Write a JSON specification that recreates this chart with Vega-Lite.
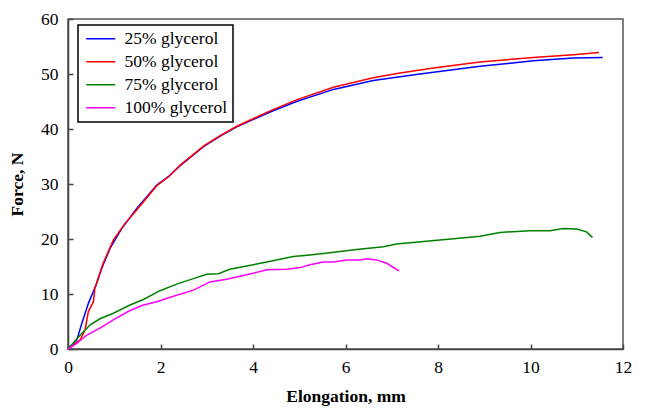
{
  "$schema": "https://vega.github.io/schema/vega-lite/v6.json",
  "width": 555,
  "height": 330,
  "autosize": {"type": "none"},
  "padding": {"left": 68, "top": 19, "right": 22, "bottom": 63},
  "background": "white",
  "config": {
    "font": "Liberation Serif",
    "view": {"stroke": "#555555", "strokeWidth": 1.5},
    "axis": {
      "domainColor": "#444444",
      "domainWidth": 1.5,
      "tickColor": "#444444",
      "tickWidth": 1.5,
      "tickSize": -5,
      "grid": false,
      "labelFont": "Liberation Serif",
      "labelFontSize": 17.5,
      "labelColor": "black",
      "titleFont": "Liberation Serif",
      "titleFontSize": 17.5,
      "titleFontWeight": "bold",
      "titleColor": "black"
    },
    "legend": {
      "labelFont": "Liberation Serif",
      "labelFontSize": 17.5
    }
  },
  "data": {
    "values": [
      {"s": "25% glycerol", "x": 0, "y": 0},
      {"s": "25% glycerol", "x": 0.19, "y": 1.6},
      {"s": "25% glycerol", "x": 0.30, "y": 4.7},
      {"s": "25% glycerol", "x": 0.44, "y": 8.3},
      {"s": "25% glycerol", "x": 0.62, "y": 11.9},
      {"s": "25% glycerol", "x": 0.73, "y": 14.7},
      {"s": "25% glycerol", "x": 0.91, "y": 18.3},
      {"s": "25% glycerol", "x": 1.16, "y": 21.9},
      {"s": "25% glycerol", "x": 1.49, "y": 25.6},
      {"s": "25% glycerol", "x": 1.92, "y": 29.8},
      {"s": "25% glycerol", "x": 2.19, "y": 31.5},
      {"s": "25% glycerol", "x": 2.42, "y": 33.3},
      {"s": "25% glycerol", "x": 2.93, "y": 36.8},
      {"s": "25% glycerol", "x": 3.29, "y": 38.7},
      {"s": "25% glycerol", "x": 3.65, "y": 40.4},
      {"s": "25% glycerol", "x": 4.37, "y": 43.1},
      {"s": "25% glycerol", "x": 4.94, "y": 45.0},
      {"s": "25% glycerol", "x": 5.74, "y": 47.2},
      {"s": "25% glycerol", "x": 6.6, "y": 48.8},
      {"s": "25% glycerol", "x": 7.18, "y": 49.5},
      {"s": "25% glycerol", "x": 7.61, "y": 50.0},
      {"s": "25% glycerol", "x": 8.91, "y": 51.4},
      {"s": "25% glycerol", "x": 10.06, "y": 52.4},
      {"s": "25% glycerol", "x": 10.93, "y": 52.9},
      {"s": "25% glycerol", "x": 11.56, "y": 53.0},
      {"s": "50% glycerol", "x": 0, "y": 0},
      {"s": "50% glycerol", "x": 0.26, "y": 1.6},
      {"s": "50% glycerol", "x": 0.37, "y": 3.5},
      {"s": "50% glycerol", "x": 0.44, "y": 6.8},
      {"s": "50% glycerol", "x": 0.55, "y": 8.6},
      {"s": "50% glycerol", "x": 0.58, "y": 11.0},
      {"s": "50% glycerol", "x": 0.76, "y": 15.6},
      {"s": "50% glycerol", "x": 0.98, "y": 19.8},
      {"s": "50% glycerol", "x": 1.23, "y": 22.8},
      {"s": "50% glycerol", "x": 1.49, "y": 25.3},
      {"s": "50% glycerol", "x": 1.92, "y": 29.7},
      {"s": "50% glycerol", "x": 2.19, "y": 31.4},
      {"s": "50% glycerol", "x": 2.42, "y": 33.4},
      {"s": "50% glycerol", "x": 2.93, "y": 36.9},
      {"s": "50% glycerol", "x": 3.29, "y": 38.8},
      {"s": "50% glycerol", "x": 3.65, "y": 40.5},
      {"s": "50% glycerol", "x": 4.37, "y": 43.3},
      {"s": "50% glycerol", "x": 4.94, "y": 45.3},
      {"s": "50% glycerol", "x": 5.74, "y": 47.6},
      {"s": "50% glycerol", "x": 6.6, "y": 49.3},
      {"s": "50% glycerol", "x": 7.18, "y": 50.2},
      {"s": "50% glycerol", "x": 7.9, "y": 51.1},
      {"s": "50% glycerol", "x": 8.91, "y": 52.2},
      {"s": "50% glycerol", "x": 10.06, "y": 53.0},
      {"s": "50% glycerol", "x": 10.93, "y": 53.5},
      {"s": "50% glycerol", "x": 11.48, "y": 53.9},
      {"s": "75% glycerol", "x": 0, "y": 0},
      {"s": "75% glycerol", "x": 0.26, "y": 2.5},
      {"s": "75% glycerol", "x": 0.48, "y": 4.4},
      {"s": "75% glycerol", "x": 0.69, "y": 5.5},
      {"s": "75% glycerol", "x": 0.98, "y": 6.5},
      {"s": "75% glycerol", "x": 1.34, "y": 8.0},
      {"s": "75% glycerol", "x": 1.63, "y": 9.0},
      {"s": "75% glycerol", "x": 1.99, "y": 10.6},
      {"s": "75% glycerol", "x": 2.35, "y": 11.8},
      {"s": "75% glycerol", "x": 2.71, "y": 12.8},
      {"s": "75% glycerol", "x": 3.0, "y": 13.6},
      {"s": "75% glycerol", "x": 3.25, "y": 13.7},
      {"s": "75% glycerol", "x": 3.5, "y": 14.5},
      {"s": "75% glycerol", "x": 3.86, "y": 15.1},
      {"s": "75% glycerol", "x": 4.30, "y": 15.8},
      {"s": "75% glycerol", "x": 4.87, "y": 16.8},
      {"s": "75% glycerol", "x": 5.23, "y": 17.1},
      {"s": "75% glycerol", "x": 5.66, "y": 17.5},
      {"s": "75% glycerol", "x": 6.24, "y": 18.1},
      {"s": "75% glycerol", "x": 6.82, "y": 18.6},
      {"s": "75% glycerol", "x": 7.1, "y": 19.1},
      {"s": "75% glycerol", "x": 8.04, "y": 19.8},
      {"s": "75% glycerol", "x": 8.69, "y": 20.3},
      {"s": "75% glycerol", "x": 8.91, "y": 20.5},
      {"s": "75% glycerol", "x": 9.34, "y": 21.2},
      {"s": "75% glycerol", "x": 9.99, "y": 21.5},
      {"s": "75% glycerol", "x": 10.42, "y": 21.5},
      {"s": "75% glycerol", "x": 10.71, "y": 21.9},
      {"s": "75% glycerol", "x": 11.0, "y": 21.8},
      {"s": "75% glycerol", "x": 11.21, "y": 21.3},
      {"s": "75% glycerol", "x": 11.34, "y": 20.3},
      {"s": "100% glycerol", "x": 0, "y": 0},
      {"s": "100% glycerol", "x": 0.19, "y": 1.0},
      {"s": "100% glycerol", "x": 0.40, "y": 2.5},
      {"s": "100% glycerol", "x": 0.69, "y": 3.8},
      {"s": "100% glycerol", "x": 0.98, "y": 5.3},
      {"s": "100% glycerol", "x": 1.34, "y": 7.0},
      {"s": "100% glycerol", "x": 1.63, "y": 8.0},
      {"s": "100% glycerol", "x": 1.92, "y": 8.6},
      {"s": "100% glycerol", "x": 2.28, "y": 9.6},
      {"s": "100% glycerol", "x": 2.71, "y": 10.7},
      {"s": "100% glycerol", "x": 3.07, "y": 12.2},
      {"s": "100% glycerol", "x": 3.43, "y": 12.7},
      {"s": "100% glycerol", "x": 3.86, "y": 13.5},
      {"s": "100% glycerol", "x": 4.30, "y": 14.4},
      {"s": "100% glycerol", "x": 4.73, "y": 14.5},
      {"s": "100% glycerol", "x": 5.02, "y": 14.8},
      {"s": "100% glycerol", "x": 5.23, "y": 15.3},
      {"s": "100% glycerol", "x": 5.52, "y": 15.8},
      {"s": "100% glycerol", "x": 5.74, "y": 15.8},
      {"s": "100% glycerol", "x": 6.03, "y": 16.2},
      {"s": "100% glycerol", "x": 6.31, "y": 16.2},
      {"s": "100% glycerol", "x": 6.46, "y": 16.4},
      {"s": "100% glycerol", "x": 6.67, "y": 16.2},
      {"s": "100% glycerol", "x": 6.89, "y": 15.6},
      {"s": "100% glycerol", "x": 7.0, "y": 15.0},
      {"s": "100% glycerol", "x": 7.16, "y": 14.2}
    ]
  },
  "mark": {"type": "line", "strokeWidth": 1.5, "interpolate": "linear"},
  "encoding": {
    "x": {
      "field": "x",
      "type": "quantitative",
      "scale": {"domain": [0, 12], "nice": false},
      "axis": {"title": "Elongation, mm", "values": [0, 2, 4, 6, 8, 10, 12], "labelPadding": 14, "titlePadding": 12, "labelFlush": false}
    },
    "y": {
      "field": "y",
      "type": "quantitative",
      "scale": {"domain": [0, 60], "nice": false},
      "axis": {"title": "Force, N", "values": [0, 10, 20, 30, 40, 50, 60], "labelPadding": 15, "titlePadding": 14, "labelFlush": false}
    },
    "color": {
      "field": "s",
      "type": "nominal",
      "scale": {
        "domain": ["25% glycerol", "50% glycerol", "75% glycerol", "100% glycerol"],
        "range": ["#0000ff", "#ff0000", "#008000", "#ff00ff"]
      },
      "legend": {
        "title": null,
        "orient": "none",
        "legendX": 10,
        "legendY": 6,
        "strokeColor": "black",
        "fillColor": "white",
        "padding": 5,
        "symbolOffset": 9,
        "symbolType": "M-2.9,0H2.9",
        "symbolSize": 100,
        "symbolStrokeWidth": 1.5,
        "labelFont": "Liberation Serif",
        "labelFontSize": 17.5,
        "labelColor": "black",
        "labelOffset": 15,
        "rowPadding": 4,
        "encode": {"legend": {"update": {"strokeWidth": {"value": 1.5}}}}
      }
    }
  }
}
